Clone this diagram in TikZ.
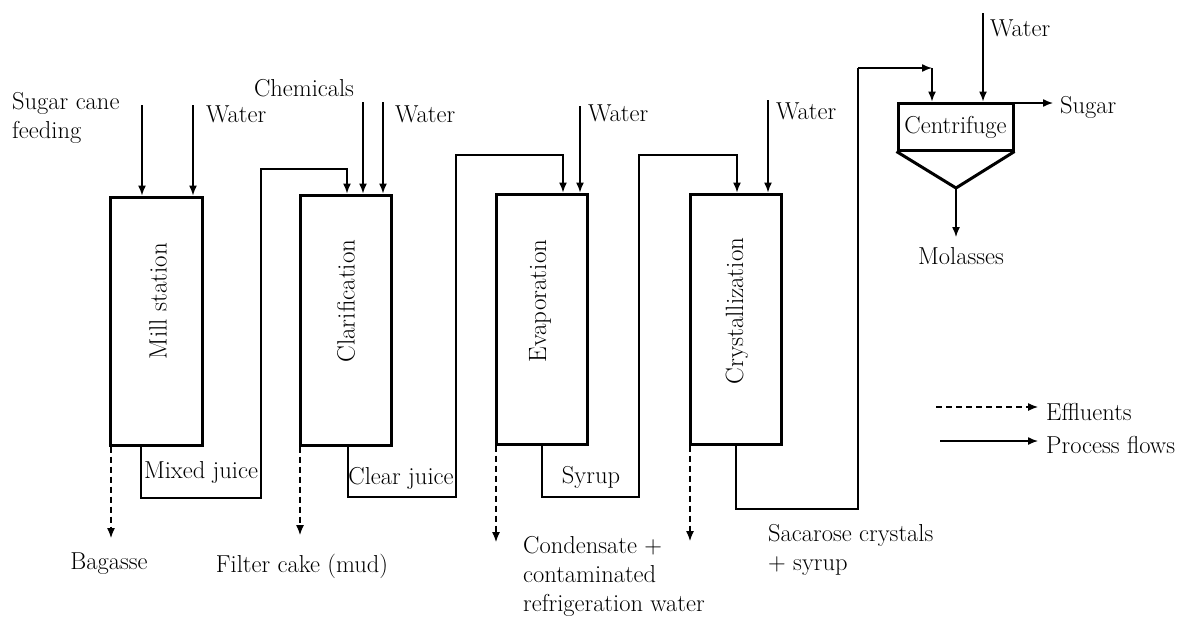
\documentclass[tikz,border=0pt]{standalone}
\usepackage{fontspec}
\usetikzlibrary{arrows.meta}
\begin{document}
\begin{tikzpicture}[x=1pt,y=-1pt,
  unit/.style={draw,line width=3pt,inner sep=0pt},
  flow/.style={line width=1.4pt,-{Latex[length=10pt,width=8pt]}},
  line/.style={line width=1.4pt},
  eff/.style={line width=1.2pt,dash pattern=on 6pt off 4pt,-{Latex[length=10pt,width=8pt]}},
  lbl/.style={font=\fontsize{24.5}{29}\selectfont,inner sep=0pt},
  vlbl/.style={font=\fontsize{25}{29}\selectfont,rotate=90,inner sep=0pt}]
\useasboundingbox (0,0) rectangle (1184,619);
% units
\node[unit,minimum width=92pt,minimum height=248pt] (mill) at (156,321) {};
\node[unit,minimum width=91pt,minimum height=250pt] (clar) at (345.5,320) {};
\node[unit,minimum width=91pt,minimum height=250pt] (evap) at (541.5,319) {};
\node[unit,minimum width=91pt,minimum height=250pt] (crys) at (735.5,319) {};
\node[vlbl] (millt) at (158,301) {Mill station};
\node[vlbl] (clart) at (346,301) {Clarification};
\node[vlbl] (evapt) at (540,301) {Evaporation};
\node[vlbl] (cryst) at (737,311) {Crystallization};
% centrifuge
\node[unit,minimum width=115pt,minimum height=47pt] (cent) at (955.5,126.5) {};
\node[lbl] (centt) at (955.5,127) {Centrifuge};
\coordinate (apex) at (956,188);
\draw[line width=3pt,line join=miter] (cent.south west) -- (apex) -- (cent.south east);
% inputs mill
\coordinate (scs) at (142,105);
\coordinate (mws) at (193,105);
\draw[flow] (scs) -- (scs |- mill.north);
\draw[flow] (mws) -- (mws |- mill.north);
\node[lbl,align=left,anchor=west] (sct) at (12,118) {Sugar cane\\feeding};
\node[lbl,anchor=west] (mwt) at (206,114) {Water};
% clarification inputs
\coordinate (chs) at (363,102);
\coordinate (cws) at (383,102);
\draw[flow] (chs) -- (chs |- clar.north);
\draw[flow] (cws) -- (cws |- clar.north);
\node[lbl] (cht) at (304,88) {Chemicals};
\node[lbl,anchor=west] (cwt) at (395,114) {Water};
% mixed juice
\coordinate (mj1) at (141,498);
\coordinate (mj2) at (261,498);
\coordinate (mj3) at (261,169);
\coordinate (mj4) at (347,169);
\draw[flow] (mj1 |- mill.south) -- (mj1) -- (mj2) -- (mj3) -- (mj4) -- (mj4 |- clar.north);
\node[lbl] (mjt) at (201,472) {Mixed juice};
% evaporation inputs
\coordinate (ews) at (580,106);
\draw[flow] (ews) -- (ews |- evap.north);
\node[lbl,anchor=west] (ewt) at (588,113) {Water};
% clear juice
\coordinate (cj1) at (348,497);
\coordinate (cj2) at (456,497);
\coordinate (cj3) at (456,155);
\coordinate (cj4) at (563,155);
\draw[flow] (cj1 |- clar.south) -- (cj1) -- (cj2) -- (cj3) -- (cj4) -- (cj4 |- evap.north);
\node[lbl] (cjt) at (401,478) {Clear juice};
% crystallization inputs
\coordinate (xws) at (768,100);
\draw[flow] (xws) -- (xws |- crys.north);
\node[lbl,anchor=west] (xwt) at (776,111) {Water};
% syrup
\coordinate (sy1) at (542,497);
\coordinate (sy2) at (639,497);
\coordinate (sy3) at (639,155);
\coordinate (sy4) at (737,155);
\draw[flow] (sy1 |- evap.south) -- (sy1) -- (sy2) -- (sy3) -- (sy4) -- (sy4 |- crys.north);
\node[lbl] (syt) at (591,477) {Syrup};
% sacarose
\coordinate (sc1) at (736,509);
\coordinate (sc2) at (858,509);
\coordinate (sc3) at (858,68);
\coordinate (sc4) at (932,68);
\draw[line] (sc1 |- crys.south) -- (sc1) -- (sc2) -- (sc3);
\draw[flow] (sc3) -- (sc4);
\draw[flow] (sc4) -- (sc4 |- cent.north);
\node[lbl,align=left,anchor=west] (sct2) at (768,550) {Sacarose crystals\\+ syrup};
% centrifuge flows
\coordinate (tws) at (983,13);
\draw[flow] (tws) -- (tws |- cent.north);
\node[lbl,anchor=west] (twt) at (990,28) {Water};
\coordinate (sug) at (1053,103);
\draw[flow] (cent.east |- sug) -- (sug);
\node[lbl,anchor=west] (sugt) at (1060,107) {Sugar};
\coordinate (mol) at (956,237);
\draw[flow] (apex) -- (mol);
\node[lbl] (molt) at (961,256) {Molasses};
% effluents
\coordinate (bg) at (111,538);
\draw[eff] (bg |- mill.south) -- (bg);
\node[lbl] (bgt) at (109,564) {Bagasse};
\coordinate (fc) at (300,535);
\draw[eff] (fc |- clar.south) -- (fc);
\node[lbl] (fct) at (302,566) {Filter cake (mud)};
\coordinate (cd) at (496,542);
\draw[eff] (cd |- evap.south) -- (cd);
\node[lbl,align=left,anchor=west] (cdt) at (523,576) {Condensate +\\contaminated\\refrigeration water};
\coordinate (cx) at (690,541);
\draw[eff] (cx |- crys.south) -- (cx);
% legend
\coordinate (le1) at (936,407);
\coordinate (le2) at (1038,407);
\draw[eff] (le1) -- (le2);
\node[lbl,anchor=west] (let) at (1046,412) {Effluents};
\coordinate (lp1) at (940,441);
\coordinate (lp2) at (1038,441);
\draw[flow] (lp1) -- (lp2);
\node[lbl,anchor=west] (lpt) at (1046,445) {Process flows};
\end{tikzpicture}
\end{document}
